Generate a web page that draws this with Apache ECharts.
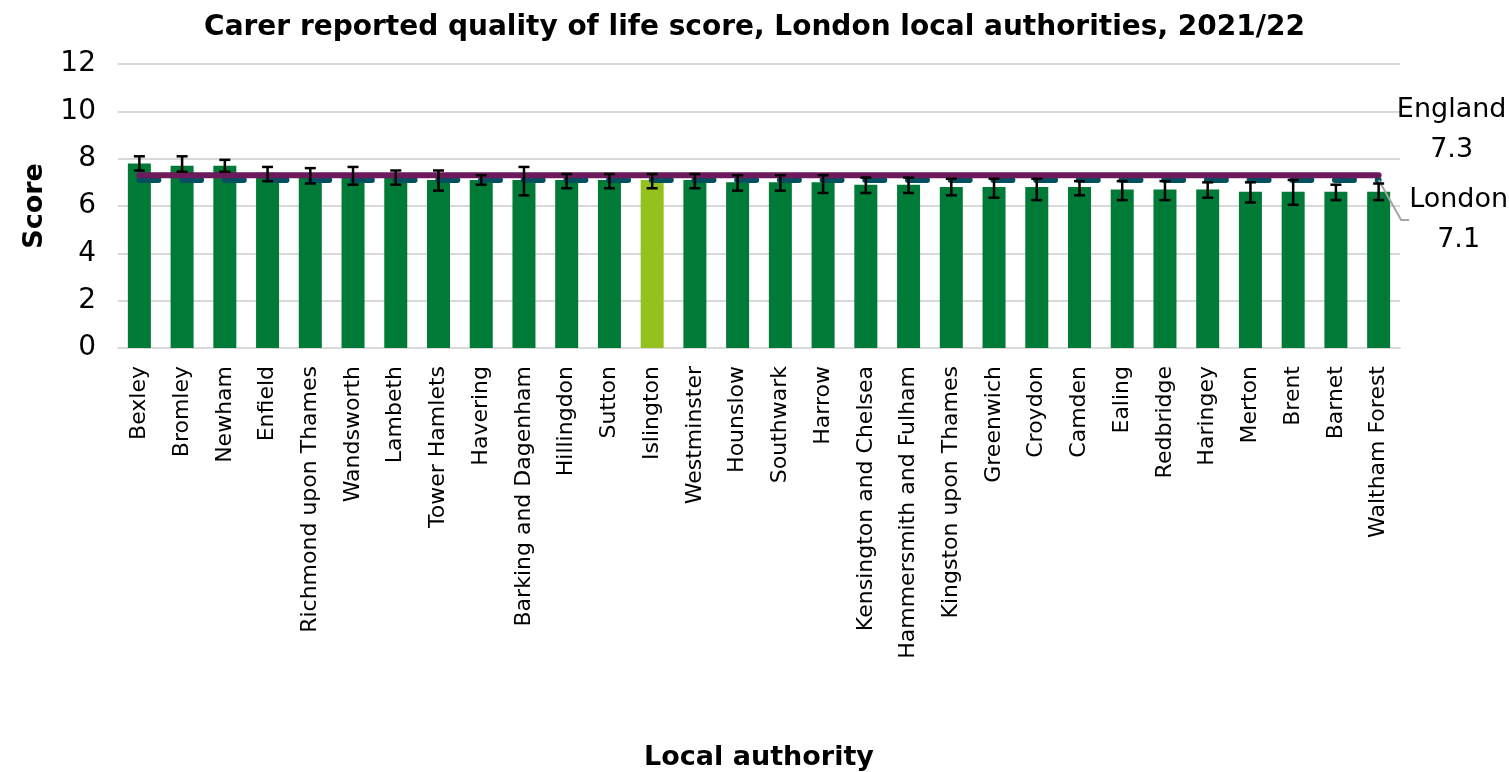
<!DOCTYPE html>
<html>
<head>
    <meta charset="UTF-8">
    <script src="https://cdn.jsdelivr.net/npm/echarts@6/dist/echarts.min.js"></script>
    <style>
        html, body { margin: 0; padding: 0; background: #fff; }
        #main { width: 1509px; height: 772px; }
    </style>
</head>
<body>
<div id="main"></div>
<script type="text/javascript">
    var authorities = ['Bexley', 'Bromley', 'Newham', 'Enfield', 'Richmond upon Thames', 'Wandsworth',
        'Lambeth', 'Tower Hamlets', 'Havering', 'Barking and Dagenham', 'Hillingdon', 'Sutton',
        'Islington', 'Westminster', 'Hounslow', 'Southwark', 'Harrow', 'Kensington and Chelsea',
        'Hammersmith and Fulham', 'Kingston upon Thames', 'Greenwich', 'Croydon', 'Camden', 'Ealing',
        'Redbridge', 'Haringey', 'Merton', 'Brent', 'Barnet', 'Waltham Forest'];
    var scores = [7.8, 7.7, 7.7, 7.4, 7.3, 7.3, 7.2, 7.1, 7.1, 7.1, 7.1, 7.1, 7.1, 7.1, 7.0,
        7.0, 7.0, 6.9, 6.9, 6.8, 6.8, 6.8, 6.8, 6.7, 6.7, 6.7, 6.6, 6.6, 6.6, 6.6];
    var ciLower = [7.5, 7.45, 7.45, 7.05, 6.95, 6.9, 6.9, 6.65, 6.9, 6.45, 6.75, 6.75, 6.75, 6.75, 6.65,
        6.65, 6.55, 6.55, 6.55, 6.45, 6.35, 6.25, 6.45, 6.25, 6.25, 6.35, 6.15, 6.05, 6.25, 6.25];
    var ciUpper = [8.1, 8.1, 7.95, 7.65, 7.6, 7.65, 7.5, 7.5, 7.3, 7.65, 7.35, 7.35, 7.35, 7.35, 7.3,
        7.3, 7.3, 7.2, 7.2, 7.15, 7.15, 7.15, 7.05, 7.05, 7.05, 7.0, 7.0, 7.1, 6.9, 6.95];
    var englandValue = 7.3;
    var londonValue = 7.1;
    var highlighted = 'Islington';

    var font = 'Tahoma, "DejaVu Sans", sans-serif';
    var myChart = echarts.init(document.getElementById('main'));

    var barData = scores.map(function (v, i) {
        return {
            value: v,
            itemStyle: {color: authorities[i] === highlighted ? '#95c11f' : '#007a37'}
        };
    });
    var errData = scores.map(function (v, i) {
        return [i, ciLower[i], ciUpper[i]];
    });

    // reference line, only the last point carries the label
    function refLine(value, text) {
        return authorities.map(function (a, i) {
            if (i < authorities.length - 1) return value;
            return {value: value, label: {show: true, formatter: text}};
        });
    }

    var refLabel = {
        position: 'inside',
        fontFamily: font, fontSize: 27, color: '#000', lineHeight: 40, align: 'center'
    };

    option = {
        animation: false,
        title: {
            text: 'Carer reported quality of life score, London local authorities, 2021/22',
            left: 'center',
            top: 9,
            textStyle: {fontFamily: font, fontSize: 28, fontWeight: 'bold', color: '#000'}
        },
        grid: {left: 118, right: 109, top: 64, bottom: 423},
        xAxis: {
            type: 'category',
            data: authorities,
            name: 'Local authority',
            nameLocation: 'middle',
            nameGap: 396,
            nameTextStyle: {fontFamily: font, fontSize: 27, fontWeight: 'bold', color: '#000'},
            axisLine: {lineStyle: {color: '#d9d9d9', width: 2}},
            axisTick: {show: false},
            axisLabel: {interval: 0, rotate: 90, margin: 18, fontFamily: font, fontSize: 22, color: '#000'}
        },
        yAxis: {
            type: 'value',
            min: 0,
            max: 12,
            interval: 2,
            name: 'Score',
            nameLocation: 'middle',
            nameGap: 70,
            nameTextStyle: {fontFamily: font, fontSize: 27, fontWeight: 'bold', color: '#000'},
            axisLabel: {fontFamily: font, fontSize: 28, color: '#000', margin: 22},
            splitLine: {lineStyle: {color: '#d9d9d9', width: 2}}
        },
        series: [
            {
                name: 'Score',
                type: 'bar',
                barWidth: 23,
                data: barData,
                z: 2
            },
            {
                name: 'London',
                type: 'line',
                data: refLine(londonValue, 'London\n' + londonValue.toFixed(1)),
                symbol: 'circle',
                symbolSize: 0.1,
                itemStyle: {color: 'rgba(0,0,0,0)'},
                z: 3,
                lineStyle: {color: '#00505f', width: 6, type: [19, 23.7], cap: 'round'},
                label: refLabel,
                labelLayout: {dx: 80, dy: 40},
                labelLine: {show: true, length2: 8, lineStyle: {color: '#a6a6a6', width: 2}}
            },
            {
                name: 'England',
                type: 'line',
                data: refLine(englandValue, 'England\n' + englandValue.toFixed(1)),
                symbol: 'circle',
                symbolSize: 0.1,
                itemStyle: {color: 'rgba(0,0,0,0)'},
                z: 4,
                lineStyle: {color: '#6c1a5b', width: 6, cap: 'round'},
                label: refLabel,
                labelLayout: {dx: 73, dy: -45}
            },
            {
                name: 'CI',
                type: 'custom',
                z: 5,
                data: errData,
                renderItem: function (params, api) {
                    var lo = api.coord([api.value(0), api.value(1)]);
                    var hi = api.coord([api.value(0), api.value(2)]);
                    var w = 5.5;
                    var style = {stroke: '#000', lineWidth: 2.5};
                    return {
                        type: 'group',
                        children: [
                            {type: 'line', shape: {x1: lo[0], y1: lo[1], x2: hi[0], y2: hi[1]}, style: style},
                            {type: 'line', shape: {x1: lo[0] - w, y1: lo[1], x2: lo[0] + w, y2: lo[1]}, style: style},
                            {type: 'line', shape: {x1: hi[0] - w, y1: hi[1], x2: hi[0] + w, y2: hi[1]}, style: style}
                        ]
                    };
                }
            }
        ]
    };
    myChart.setOption(option);
</script>
</body>
</html>
